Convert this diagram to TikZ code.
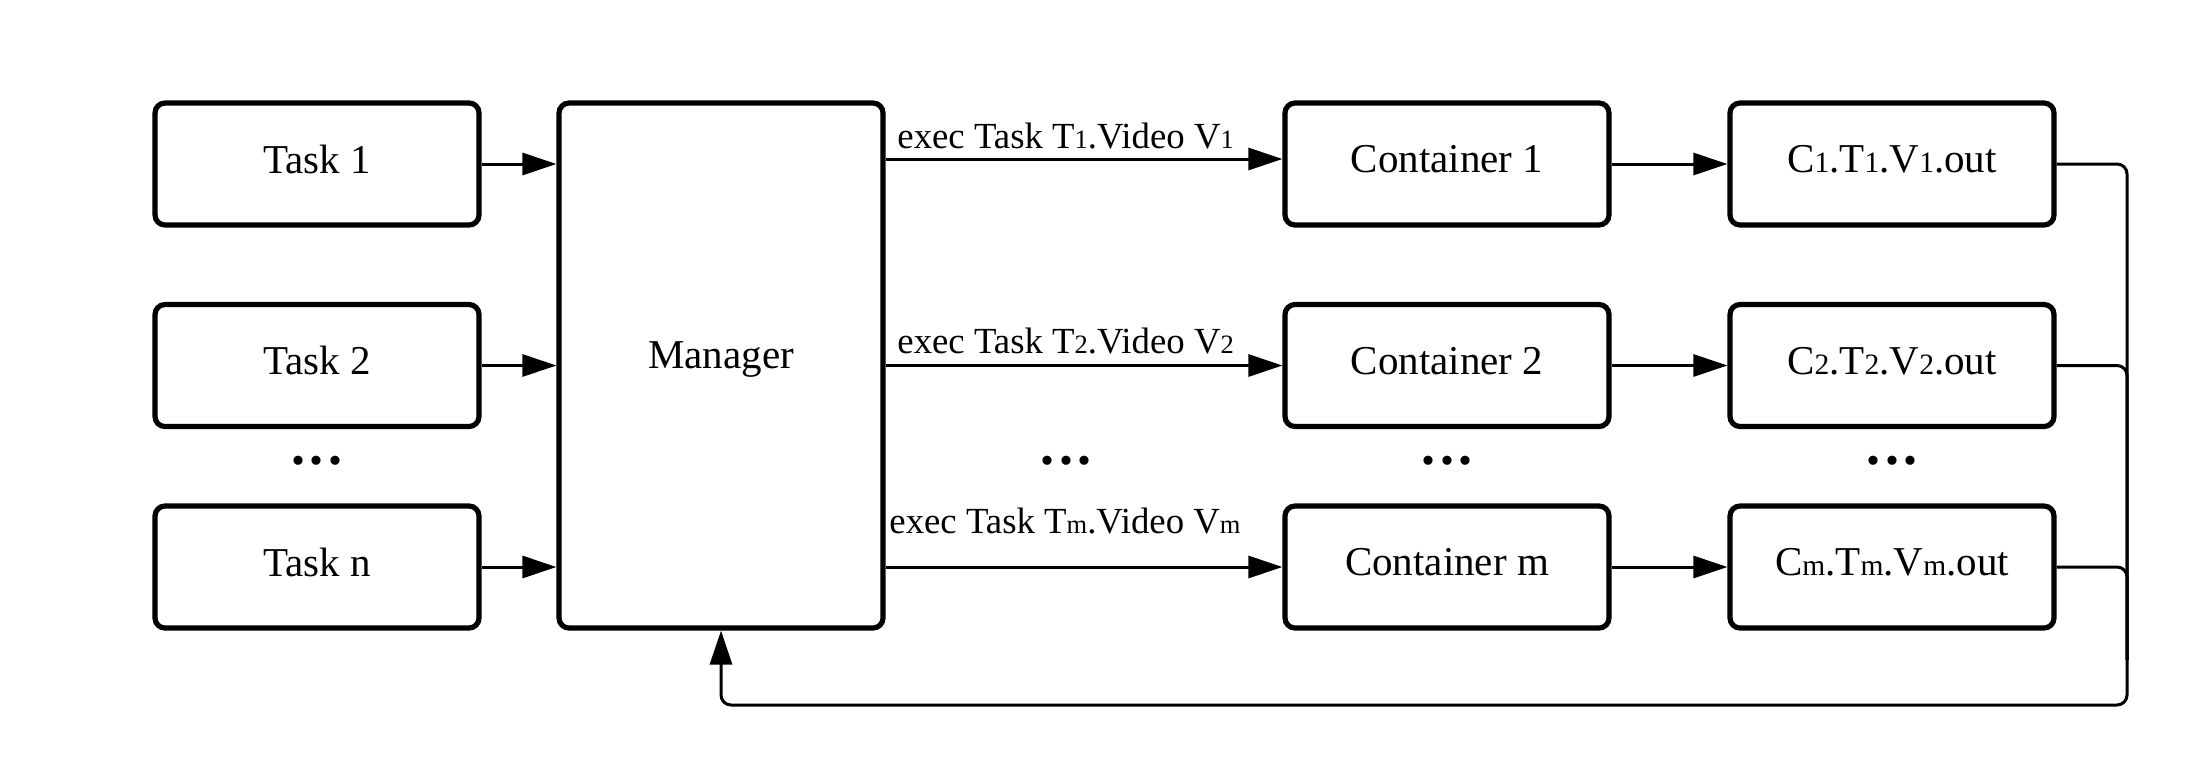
\documentclass[tikz,border=0pt]{standalone}
\usepackage{fontspec}
\setmainfont{Liberation Serif}
\usetikzlibrary{arrows.meta}
\makeatletter
\newcommand\smallsub[1]{{\dimen0=\f@size pt\dimen0=0.72\dimen0\fontsize{\the\dimen0}{\the\dimen0}\selectfont #1}}
\makeatother
\newcommand\threedots{\textbf{.\hspace{2.5pt}.\hspace{2.5pt}.}}
\begin{document}
\begin{tikzpicture}[x=0.5pt,y=-0.5pt,
  box/.style={draw,line width=2.6pt,rounded corners=5pt,minimum width=162pt,minimum height=61pt,
    font=\fontsize{20.5pt}{24pt}\selectfont,text depth=5pt,inner sep=0pt},
  arr/.style={line width=1.5pt,-{Triangle[length=17pt,width=11pt]}},
  bus/.style={line width=1.5pt,rounded corners=5pt},
  lbl/.style={font=\fontsize{18.4pt}{22pt}\selectfont,inner sep=0pt,anchor=west},
  dotsty/.style={font=\fontsize{28pt}{32pt}\selectfont,inner sep=0pt,anchor=base}]
\useasboundingbox (0,0) rectangle (2209,782);
% tasks
\node[box] (t1) at (317,164) {Task 1};
\node[box] (t2) at (317,365.5) {Task 2};
\node[box] (tn) at (317,567) {Task n};
% manager
\node[box,minimum height=262.5pt,text depth=10pt] (mgr) at (721,365.5) {Manager};
% containers
\node[box] (c1) at (1447,164) {Container 1};
\node[box] (c2) at (1447,365.5) {Container 2};
\node[box] (cm) at (1447,567) {Container m};
% outputs
\node[box] (o1) at (1892,164) {C\smallsub{1}.T\smallsub{1}.V\smallsub{1}.out};
\node[box] (o2) at (1892,365.5) {C\smallsub{2}.T\smallsub{2}.V\smallsub{2}.out};
\node[box] (om) at (1892,567) {C\smallsub{m}.T\smallsub{m}.V\smallsub{m}.out};
% dots
\node[dotsty] (d1) at (317,464) {\threedots};
\node[dotsty] (d2) at (1066,464) {\threedots};
\node[dotsty] (d3) at (1447,464) {\threedots};
\node[dotsty] (d4) at (1892,464) {\threedots};
% task -> manager
\draw[arr] (t1.east) -- (t1.east -| mgr.west);
\draw[arr] (t2.east) -- (t2.east -| mgr.west);
\draw[arr] (tn.east) -- (tn.east -| mgr.west);
% manager -> containers
\draw[arr] ([yshift=2.5pt]c1.west -| mgr.east) -- ([yshift=2.5pt]c1.west);
\draw[arr] (c2.west -| mgr.east) -- (c2.west);
\draw[arr] (cm.west -| mgr.east) -- (cm.west);
% labels
\node[lbl] (l1) at (897,136) {exec Task T\smallsub{1}.Video V\smallsub{1}};
\node[lbl] (l2) at (897,341) {exec Task T\smallsub{2}.Video V\smallsub{2}};
\node[lbl] (l3) at (889,521) {exec Task T\smallsub{m}.Video V\smallsub{m}};
% containers -> outputs
\draw[arr] (c1.east) -- (o1.west);
\draw[arr] (c2.east) -- (o2.west);
\draw[arr] (cm.east) -- (om.west);
% feedback bus
\coordinate (busc) at (2127,705);
\coordinate (busj) at (2127,660);
\draw[bus] (o2.east) -| (busj);
\draw[bus] (om.east) -| (busj);
\draw[arr,bus] (o1.east) -| (busc) -| (mgr.south);
\end{tikzpicture}
\end{document}
